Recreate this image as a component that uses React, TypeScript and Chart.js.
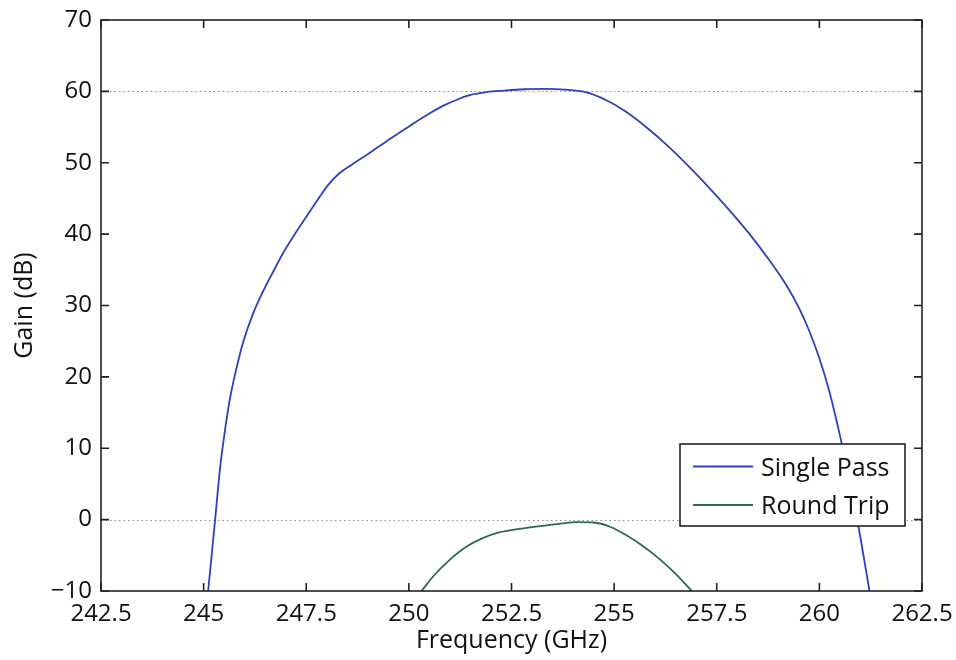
import React, { useEffect, useRef } from "react";
import { Chart, registerables } from "chart.js";

Chart.register(...registerables);

const singleFreq = [
  245.11, 245.28, 245.4, 245.52, 245.64, 245.8, 245.97, 246.2, 246.45, 246.7,
  246.94, 247.2, 247.51, 247.8, 248.05, 248.3, 248.6, 249.05, 249.5, 250.03,
  250.5, 250.84, 251.2, 251.5, 251.9, 252.3, 252.8, 253.3, 253.8, 254.3,
  254.8, 255.3, 255.8, 256.3, 256.8, 257.3, 257.8, 258.3, 258.8, 259.2,
  259.5, 259.75, 260.0, 260.25, 260.5, 260.75, 261.0, 261.22,
];
const singleGain = [
  -10, 0, 7.2, 12.5, 16.9, 21.2, 25.0, 28.8, 32.0, 34.8,
  37.4, 39.8, 42.5, 45.0, 47.0, 48.5, 49.7, 51.4, 53.2, 55.2,
  56.9, 58.0, 58.9, 59.5, 59.9, 60.1, 60.3, 60.35, 60.25, 59.9,
  58.8, 57.1, 54.9, 52.4, 49.6, 46.6, 43.4, 40.0, 36.2, 32.8,
  29.7, 26.5, 22.6, 17.8, 11.8, 5.2, -2.5, -10,
];
const roundFreq = [
  250.31, 250.6, 251.0, 251.4, 251.8, 252.2, 252.7, 253.2, 253.7, 254.1,
  254.5, 254.9, 255.3, 255.7, 256.1, 256.5, 256.89,
];
const roundGain = [
  -10, -7.9, -5.6, -3.8, -2.6, -1.8, -1.3, -0.9, -0.55, -0.35,
  -0.4, -1.0, -2.2, -3.7, -5.5, -7.6, -10,
];
const seriesLabels = ["Single Pass", "Round Trip"];
const seriesColors = ["#2f3fc0", "#2d6b4c"];
const refLines = [60, 0];
const xTitle = "Frequency (GHz)";
const yTitle = "Gain (dB)";
const xRange = [242.5, 262.5];
const yRange = [-10, 70];

const FONT = "'Open Sans'";

export default function App() {
  const ref = useRef<HTMLCanvasElement>(null);

  useEffect(() => {
    const canvas = ref.current;
    if (!canvas) return;

    const framePlugin = {
      id: "frame",
      beforeDatasetsDraw(chart: any) {
        const { ctx, chartArea: a, scales } = chart;
        const y = scales.y;
        ctx.save();
        ctx.strokeStyle = "#8c8c8c";
        ctx.lineWidth = 1;
        ctx.setLineDash([1.5, 3]);
        refLines.forEach((v) => {
          const py = Math.round(y.getPixelForValue(v)) + 0.5;
          ctx.beginPath();
          ctx.moveTo(a.left, py);
          ctx.lineTo(a.right, py);
          ctx.stroke();
        });
        ctx.restore();
      },
      afterDatasetsDraw(chart: any) {
        const { ctx, chartArea: a, scales } = chart;
        const x = scales.x;
        const y = scales.y;
        ctx.save();
        ctx.strokeStyle = "#222";
        ctx.lineWidth = 1.6;
        ctx.setLineDash([]);
        ctx.strokeRect(a.left, a.top, a.right - a.left, a.bottom - a.top);
        const tl = 8;
        ctx.beginPath();
        x.ticks.forEach((t: any) => {
          const px = x.getPixelForValue(t.value);
          ctx.moveTo(px, a.bottom);
          ctx.lineTo(px, a.bottom - tl);
          ctx.moveTo(px, a.top);
          ctx.lineTo(px, a.top + tl);
        });
        y.ticks.forEach((t: any) => {
          const py = y.getPixelForValue(t.value);
          ctx.moveTo(a.left, py);
          ctx.lineTo(a.left + tl, py);
          ctx.moveTo(a.right, py);
          ctx.lineTo(a.right - tl, py);
        });
        ctx.stroke();

        // legend
        const bx1 = a.right - 17;
        const by2 = a.bottom - 65;
        const bx0 = bx1 - 225;
        const by0 = by2 - 82;
        ctx.fillStyle = "#fff";
        ctx.fillRect(bx0, by0, bx1 - bx0, by2 - by0);
        ctx.strokeStyle = "#222";
        ctx.lineWidth = 1.6;
        ctx.strokeRect(bx0, by0, bx1 - bx0, by2 - by0);
        ctx.font = `25px ${FONT}`;
        ctx.textBaseline = "alphabetic";
        ctx.textAlign = "left";
        chart.data.datasets.forEach((ds: any, i: number) => {
          const cy = by0 + 22.5 + i * 38.5;
          ctx.strokeStyle = ds.borderColor;
          ctx.lineWidth = 1.8;
          ctx.beginPath();
          ctx.moveTo(bx0 + 13, cy);
          ctx.lineTo(bx0 + 73, cy);
          ctx.stroke();
          ctx.fillStyle = "#111";
          ctx.fillText(ds.label, bx0 + 81, cy + 9);
        });
        ctx.restore();
      },
    };

    const toPts = (xs: number[], ys: number[]) =>
      xs.map((v, i) => ({ x: v, y: ys[i] }));

    const chart = new Chart(canvas, {
      type: "line",
      data: {
        datasets: [
          {
            label: seriesLabels[0],
            data: toPts(singleFreq, singleGain),
            borderColor: seriesColors[0],
            borderWidth: 1.8,
            pointRadius: 0,
            cubicInterpolationMode: "monotone",
            fill: false,
          },
          {
            label: seriesLabels[1],
            data: toPts(roundFreq, roundGain),
            borderColor: seriesColors[1],
            borderWidth: 1.8,
            pointRadius: 0,
            cubicInterpolationMode: "monotone",
            fill: false,
          },
        ],
      },
      options: {
        animation: false,
        responsive: false,
        devicePixelRatio: 1,
        layout: { padding: { left: 0, right: 34, top: 20, bottom: 0 } },
        plugins: {
          legend: { display: false },
          tooltip: { enabled: false },
        },
        scales: {
          x: {
            type: "linear",
            min: xRange[0],
            max: xRange[1],
            grid: { display: false, drawTicks: false },
            border: { display: false },
            ticks: {
              stepSize: 2.5,
              autoSkip: false,
              maxRotation: 0,
              padding: 9,
              color: "#111",
              font: { family: FONT, size: 24 },
              callback: (v: any) => String(v),
            },
            title: {
              display: true,
              text: xTitle,
              color: "#111",
              font: { family: FONT, size: 25 },
              padding: { top: 0, bottom: 4 },
            },
            afterFit: (s: any) => {
              s.height = 69;
              s.paddingLeft = 0;
              s.paddingRight = 0;
            },
          },
          y: {
            type: "linear",
            min: yRange[0],
            max: yRange[1],
            grid: { display: false, drawTicks: false },
            border: { display: false },
            ticks: {
              stepSize: 10,
              padding: 9,
              color: "#111",
              font: { family: FONT, size: 24 },
              callback: (v: any) => (v < 0 ? "\u2212" + Math.abs(v) : String(v)),
            },
            title: {
              display: true,
              text: yTitle,
              color: "#111",
              font: { family: FONT, size: 25 },
              padding: { top: 10, bottom: 0 },
            },
            afterFit: (s: any) => {
              s.width = 101;
              s.paddingTop = 0;
              s.paddingBottom = 0;
            },
          },
        },
      },
      plugins: [framePlugin],
    } as any);

    return () => chart.destroy();
  }, []);

  return (
    <div
      style={{
        position: "absolute",
        left: 0,
        top: 0,
        width: 956,
        height: 660,
        background: "#fff",
      }}
    >
      <canvas ref={ref} width={956} height={660} style={{ display: "block" }} />
    </div>
  );
}
